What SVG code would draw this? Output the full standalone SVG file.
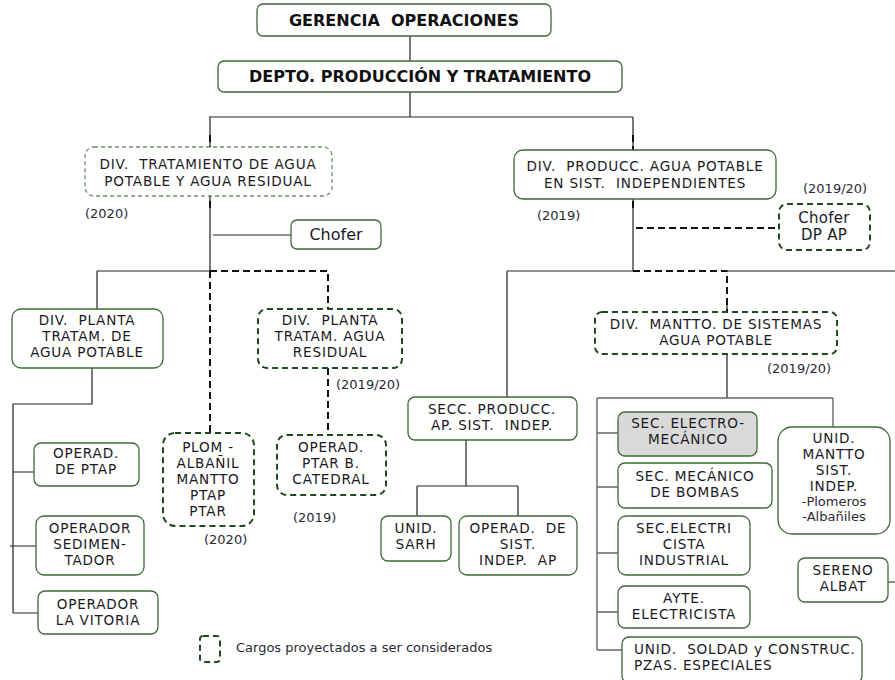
<svg xmlns="http://www.w3.org/2000/svg" width="895" height="680" viewBox="0 0 895 680">
<style>
.b{fill:#fff;stroke:#3d6b35;stroke-width:1.3}
.g{fill:#d9d9d9;stroke:#3d6b35;stroke-width:1.3}
.d{fill:#fff;stroke:#1f4a1f;stroke-width:2;stroke-dasharray:6 4}
.dl{fill:#fff;stroke:#6f8f6a;stroke-width:1.3;stroke-dasharray:4 3}
.t{font-family:"DejaVu Sans","Liberation Sans",sans-serif;font-size:13.6px;letter-spacing:0.8px;fill:#1a1a24;text-anchor:middle}
.tb{font-family:"DejaVu Sans","Liberation Sans",sans-serif;font-size:16px;font-weight:bold;fill:#111;text-anchor:middle}
.s{font-family:"DejaVu Sans","Liberation Sans",sans-serif;font-size:13px;fill:#2a2a35}
.l{fill:none;stroke:#222;stroke-width:1.2}
.lg{fill:none;stroke:#666;stroke-width:1.4}
.ld{fill:none;stroke:#111;stroke-width:2;stroke-dasharray:7 4}
</style>
<g id="connectors">
<path class="l" d="M410 36V61M410 92V117M211 117H633M210 116V272M633 117V271M213 235H291"/>
<path class="ld" d="M210 135V212M633 135V210M636 228H779"/>
<path class="l" d="M97 271H210M97 271V309M92 368V404H13V613M13 472H35M10 546H36M13 613H38"/>
<path class="ld" d="M210 271H328V309M210 271V433M328 368V436"/>
<path class="l" d="M507 271H633M507 271V397M727 300V398"/>
<path class="ld" d="M633 271H727V312"/>
<path class="lg" d="M727 271H895"/>
<path class="l" d="M466 440V486M417 486H518M417 486V516M518 486V516"/>
<path class="lg" d="M597 398H833M833 398V427M597 398V650M597 433H618M597 487H618M597 553H618M597 612H618M597 650H622M888 582H895"/>
</g>
<g id="n_gerencia"><rect class="b" x="257" y="4" width="294" height="32" rx="6"/><text class="tb" x="404" y="26">GERENCIA&#160; OPERACIONES</text></g>
<g id="n_depto"><rect class="b" x="218" y="61" width="404" height="31" rx="6"/><text class="tb" x="420" y="82">DEPTO. PRODUCCIÓN Y TRATAMIENTO</text></g>
<g id="n_divtrat"><rect class="dl" x="85" y="147" width="247" height="49" rx="9"/><text class="t" x="208" y="169">DIV.&#160; TRATAMIENTO DE AGUA</text><text class="t" x="208" y="186">POTABLE Y AGUA RESIDUAL</text></g>
<text class="s" x="85" y="218">(2020)</text>
<g id="n_chofer1"><rect class="b" x="291" y="220" width="90" height="29" rx="6"/><text class="t" x="336" y="240" style="font-size:16px;letter-spacing:0">Chofer</text></g>
<g id="n_divprod"><rect class="b" x="514" y="150" width="262" height="49" rx="9"/><text class="t" x="645" y="171">DIV.&#160; PRODUCC. AGUA POTABLE</text><text class="t" x="645" y="188">EN SIST.&#160; INDEPENDIENTES</text></g>
<text class="s" x="537" y="220">(2019)</text>
<text class="s" x="803" y="193">(2019/20)</text>
<g id="n_chofer2"><rect class="d" x="779" y="204" width="91" height="46" rx="8"/><text class="t" x="824" y="223" style="font-size:15px;letter-spacing:0.3px">Chofer</text><text class="t" x="824" y="240" style="font-size:15px;letter-spacing:0.3px">DP AP</text></g>
<g id="n_divptap"><rect class="b" x="12" y="309" width="151" height="59" rx="9"/><text class="t" x="87" y="325">DIV.&#160; PLANTA</text><text class="t" x="87" y="341">TRATAM. DE</text><text class="t" x="87" y="357">AGUA POTABLE</text></g>
<g id="n_divptar"><rect class="d" x="258" y="309" width="144" height="59" rx="9"/><text class="t" x="330" y="325">DIV.&#160; PLANTA</text><text class="t" x="330" y="341">TRATAM. AGUA</text><text class="t" x="330" y="357">RESIDUAL</text></g>
<text class="s" x="336" y="389">(2019/20)</text>
<g id="n_operptap"><rect class="b" x="34" y="443" width="105" height="43" rx="7"/><text class="t" x="86" y="458">OPERAD.</text><text class="t" x="86" y="474">DE PTAP</text></g>
<g id="n_opersed"><rect class="b" x="36" y="516" width="108" height="59" rx="8"/><text class="t" x="90" y="533">OPERADOR</text><text class="t" x="90" y="549">SEDIMEN-</text><text class="t" x="90" y="565">TADOR</text></g>
<g id="n_opervit"><rect class="b" x="38" y="591" width="120" height="43" rx="7"/><text class="t" x="98" y="609">OPERADOR</text><text class="t" x="98" y="625">LA VITORIA</text></g>
<g id="n_plom"><rect class="d" x="163" y="433" width="91" height="93" rx="12"/><text class="t" x="208" y="452">PLOM -</text><text class="t" x="208" y="468">ALBAÑIL</text><text class="t" x="208" y="484">MANTTO</text><text class="t" x="208" y="500">PTAP</text><text class="t" x="208" y="516">PTAR</text></g>
<text class="s" x="204" y="544">(2020)</text>
<g id="n_operptar"><rect class="d" x="277" y="435" width="109" height="60" rx="10"/><text class="t" x="331" y="452">OPERAD.</text><text class="t" x="331" y="468">PTAR B.</text><text class="t" x="331" y="484">CATEDRAL</text></g>
<text class="s" x="293" y="522">(2019)</text>
<g id="n_divmantto"><rect class="d" x="595" y="312" width="242" height="42" rx="7"/><text class="t" x="716" y="329">DIV.&#160; MANTTO. DE SISTEMAS</text><text class="t" x="716" y="345">AGUA POTABLE</text></g>
<text class="s" x="767" y="373">(2019/20)</text>
<g id="n_secc"><rect class="b" x="408" y="397" width="169" height="43" rx="7"/><text class="t" x="492" y="414">SECC. PRODUCC.</text><text class="t" x="492" y="430">AP. SIST.&#160; INDEP.</text></g>
<g id="n_sarh"><rect class="b" x="381" y="516" width="70" height="45" rx="7"/><text class="t" x="416" y="533">UNID.</text><text class="t" x="416" y="549">SARH</text></g>
<g id="n_opersist"><rect class="b" x="459" y="516" width="118" height="59" rx="8"/><text class="t" x="518" y="533">OPERAD.&#160; DE</text><text class="t" x="518" y="549">SIST.</text><text class="t" x="518" y="565">INDEP.&#160; AP</text></g>
<g id="n_electromec"><rect class="g" x="618" y="412" width="139" height="44" rx="7"/><text class="t" x="688" y="428">SEC. ELECTRO-</text><text class="t" x="688" y="444">MECÁNICO</text></g>
<g id="n_bombas"><rect class="b" x="618" y="463" width="154" height="45" rx="7"/><text class="t" x="695" y="481">SEC. MECÁNICO</text><text class="t" x="695" y="497">DE BOMBAS</text></g>
<g id="n_electri"><rect class="b" x="618" y="516" width="132" height="59" rx="8"/><text class="t" x="684" y="533">SEC.ELECTRI</text><text class="t" x="684" y="549">CISTA</text><text class="t" x="684" y="565">INDUSTRIAL</text></g>
<g id="n_ayte"><rect class="b" x="618" y="586" width="132" height="42" rx="7"/><text class="t" x="684" y="603">AYTE.</text><text class="t" x="684" y="619">ELECTRICISTA</text></g>
<g id="n_soldad"><rect class="b" x="622" y="637" width="240" height="46" rx="7"/><text class="t" x="634" y="654" style="text-anchor:start">UNID.&#160; SOLDAD y CONSTRUC.</text><text class="t" x="634" y="670" style="text-anchor:start">PZAS. ESPECIALES</text></g>
<g id="n_unidmantto"><rect class="b" x="778" y="427" width="112" height="107" rx="14"/><text class="t" x="834" y="443">UNID.</text><text class="t" x="834" y="459">MANTTO</text><text class="t" x="834" y="475">SIST.</text><text class="t" x="834" y="491">INDEP.</text><text class="s" x="834" y="506" style="text-anchor:middle">-Plomeros</text><text class="s" x="834" y="521" style="text-anchor:middle">-Albañiles</text></g>
<g id="n_sereno"><rect class="b" x="798" y="558" width="90" height="44" rx="7"/><text class="t" x="843" y="575">SERENO</text><text class="t" x="843" y="591">ALBAT</text></g>
<g id="legend"><rect class="d" x="200" y="636" width="20" height="26" rx="3"/><text class="s" x="236" y="652">Cargos proyectados a ser considerados</text></g>
</svg>
